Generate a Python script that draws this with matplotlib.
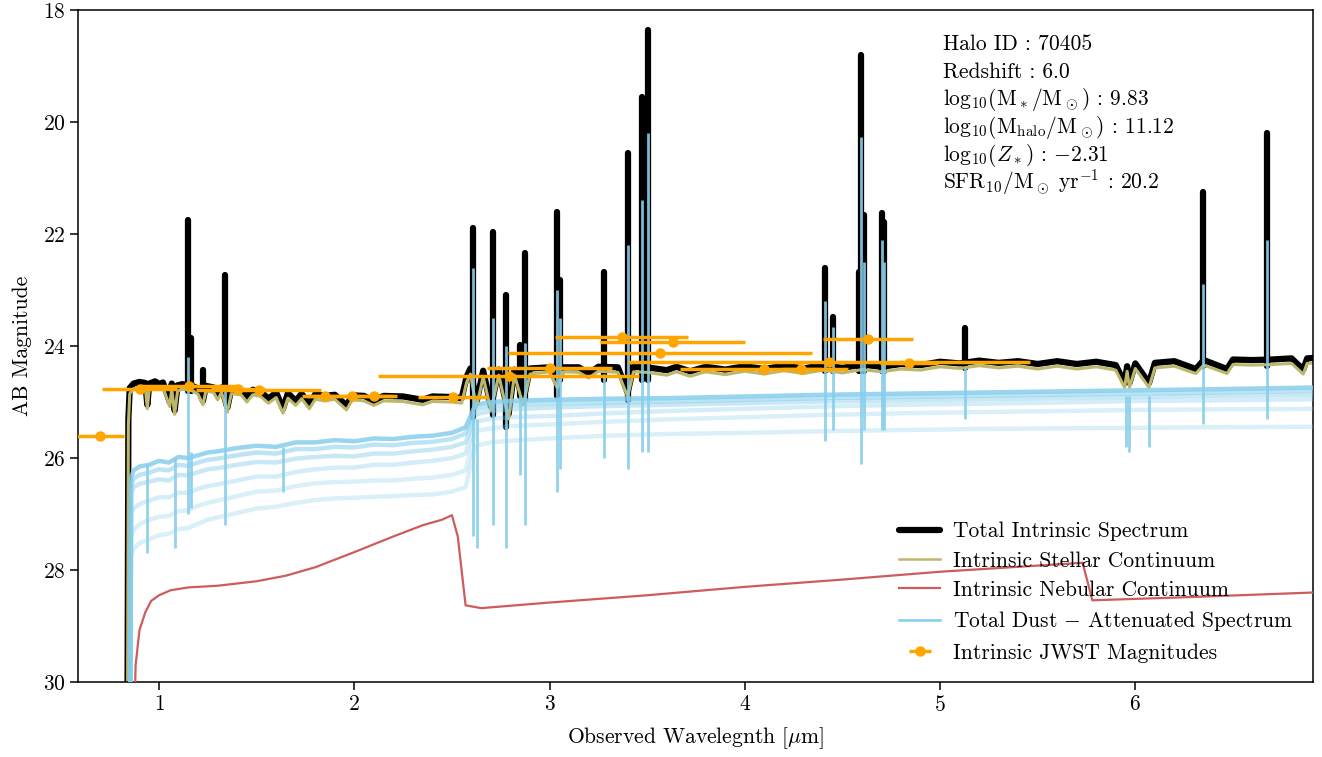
import matplotlib
matplotlib.use('Agg')
import matplotlib.pyplot as plt

plt.rcParams['font.family'] = 'serif'
plt.rcParams['font.serif'] = ['cmr10']
plt.rcParams['mathtext.fontset'] = 'cm'
plt.rcParams['axes.formatter.use_mathtext'] = True
plt.rcParams['font.size'] = 15.5

# ---- intrinsic spectrum (continuum knots) ----
spec_wave = [0.838, 0.843, 0.850, 0.870, 0.900, 0.930, 0.940, 0.950, 0.980, 1.000,
             1.020, 1.055, 1.065, 1.080, 1.095, 1.120, 1.170, 1.200, 1.225, 1.240,
             1.280, 1.300, 1.320, 1.350, 1.370, 1.420, 1.450, 1.480, 1.520, 1.560,
             1.600, 1.635, 1.660, 1.700, 1.730, 1.770, 1.800, 1.850, 1.900, 1.960,
             1.990, 2.050, 2.100, 2.150, 2.250, 2.350, 2.400, 2.500, 2.550, 2.575,
             2.595, 2.625, 2.660, 2.700, 2.740, 2.790, 2.820, 2.865, 2.900, 3.000,
             3.040, 3.070, 3.150, 3.200, 3.250, 3.350, 3.400, 3.430, 3.500, 3.600,
             3.650, 3.720, 3.800, 3.900, 4.000, 4.100, 4.200, 4.300, 4.400, 4.500,
             4.600, 4.700, 4.800, 4.900, 5.000, 5.100, 5.200, 5.300, 5.400, 5.500,
             5.600, 5.700, 5.800, 5.900, 5.945, 5.958, 5.970, 6.000, 6.070, 6.100,
             6.200, 6.310, 6.350, 6.470, 6.500, 6.600, 6.700, 6.800, 6.860, 6.880,
             6.920]
stellar_mag = [31.0, 25.40, 24.85, 24.76, 24.73, 24.75, 25.12, 24.76, 24.72, 24.77,
               24.74, 25.08, 24.76, 25.22, 24.80, 24.77, 24.80, 24.86, 25.05, 24.80,
               24.83, 24.96, 24.83, 25.18, 24.85, 24.87, 25.00, 24.87, 24.90, 25.02,
               24.92, 25.20, 24.93, 25.06, 24.94, 25.12, 24.95, 24.98, 24.95, 25.14,
               24.96, 24.98, 25.06, 24.98, 24.99, 25.05, 24.99, 25.00, 25.02, 24.65,
               24.50, 25.10, 24.55, 25.15, 24.52, 25.30, 24.52, 25.05, 24.50, 24.46,
               24.75, 24.46, 24.47, 24.57, 24.45, 24.47, 24.90, 24.46, 24.47, 24.52,
               24.46, 24.54, 24.46, 24.51, 24.45, 24.50, 24.44, 24.49, 24.43, 24.48,
               24.42, 24.46, 24.41, 24.43, 24.37, 24.40, 24.35, 24.39, 24.36, 24.41,
               24.36, 24.41, 24.37, 24.43, 24.74, 24.45, 24.74, 24.40, 24.74, 24.39,
               24.36, 24.49, 24.34, 24.49, 24.33, 24.34, 24.33, 24.31, 24.50, 24.31,
               24.30]
total_mag = [31.0, 25.30, 24.75, 24.67, 24.64, 24.66, 25.05, 24.67, 24.63, 24.68,
             24.65, 25.00, 24.67, 25.15, 24.70, 24.68, 24.71, 24.76, 24.98, 24.71,
             24.74, 24.88, 24.74, 25.10, 24.76, 24.78, 24.92, 24.78, 24.81, 24.94,
             24.83, 25.12, 24.84, 24.98, 24.85, 25.04, 24.86, 24.89, 24.87, 25.06,
             24.88, 24.89, 24.98, 24.89, 24.90, 24.96, 24.90, 24.91, 24.93, 24.55,
             24.40, 25.02, 24.44, 25.08, 24.42, 25.22, 24.42, 24.98, 24.40, 24.38,
             24.68, 24.38, 24.38, 24.49, 24.37, 24.38, 24.83, 24.37, 24.38, 24.43,
             24.37, 24.45, 24.37, 24.42, 24.36, 24.41, 24.35, 24.40, 24.34, 24.39,
             24.33, 24.37, 24.32, 24.34, 24.28, 24.31, 24.26, 24.30, 24.27, 24.32,
             24.27, 24.32, 24.28, 24.34, 24.66, 24.36, 24.66, 24.31, 24.66, 24.30,
             24.27, 24.41, 24.25, 24.41, 24.24, 24.25, 24.24, 24.22, 24.42, 24.22,
             24.21]

# emission lines in the intrinsic spectrum (top of spike, bottom of spike)
line_wave = [1.148, 1.164, 1.225, 1.336, 2.609, 2.708, 2.778, 2.848, 2.874, 3.038,
             3.054, 3.280, 3.403, 3.471, 3.505, 4.410, 4.454, 4.584, 4.594, 4.609,
             4.702, 4.712, 5.127, 6.348, 6.672]
line_peak = [21.75, 23.86, 24.43, 22.73, 21.90, 21.96, 23.09, 23.98, 22.34, 21.60,
             22.82, 22.68, 20.55, 19.55, 18.36, 22.60, 23.48, 22.68, 18.80, 21.66,
             21.63, 21.78, 23.68, 21.25, 20.20]
line_floor = [24.80, 24.80, 24.80, 24.90, 25.27, 25.23, 25.45, 24.90, 24.95, 24.90,
              24.60, 24.60, 24.96, 24.60, 24.60, 24.45, 24.45, 24.45, 24.45, 24.45,
              24.45, 24.45, 24.40, 24.35, 24.35]

# ---- nebular continuum ----
neb_wave = [0.872, 0.88, 0.90, 0.93, 0.96, 1.00, 1.06, 1.15, 1.30, 1.50,
            1.65, 1.80, 2.00, 2.20, 2.35, 2.45, 2.50, 2.53, 2.57, 2.65,
            3.00, 3.50, 4.00, 4.50, 5.00, 5.50, 5.73, 5.78, 6.30, 6.92]
neb_mag = [31.0, 29.70, 29.07, 28.75, 28.55, 28.45, 28.36, 28.31, 28.28, 28.20,
           28.10, 27.95, 27.68, 27.40, 27.20, 27.10, 27.02, 27.40, 28.63, 28.68,
           28.58, 28.45, 28.30, 28.17, 28.03, 27.92, 27.87, 28.54, 28.48, 28.40]

# ---- dust-attenuated spectra (several sightlines) ----
dust_wave = [0.852, 0.857, 0.87, 0.90, 0.95, 1.00, 1.05, 1.10, 1.15, 1.20,
             1.25, 1.30, 1.40, 1.50, 1.60, 1.70, 1.80, 1.90, 2.00, 2.10,
             2.20, 2.30, 2.40, 2.50, 2.57, 2.62, 2.70, 2.80, 3.00, 3.30,
             3.60, 4.00, 4.40, 4.80, 5.20, 5.60, 6.00, 6.40, 6.92]
dust_mag_a = [31.0, 26.35, 26.22, 26.15, 26.12, 26.05, 26.08, 25.98, 26.00, 25.95,
              25.90, 25.88, 25.82, 25.78, 25.80, 25.72, 25.72, 25.68, 25.70, 25.65,
              25.66, 25.62, 25.60, 25.55, 25.45, 25.05, 25.00, 24.98, 24.96, 24.94,
              24.93, 24.90, 24.87, 24.85, 24.83, 24.81, 24.79, 24.77, 24.74]
dust_mag_b = [31.0, 26.50, 26.37, 26.30, 26.26, 26.20, 26.22, 26.12, 26.14, 26.08,
              26.03, 26.01, 25.95, 25.90, 25.92, 25.84, 25.84, 25.80, 25.81, 25.76,
              25.77, 25.73, 25.71, 25.66, 25.56, 25.13, 25.08, 25.05, 25.03, 25.01,
              24.99, 24.96, 24.93, 24.91, 24.89, 24.87, 24.85, 24.83, 24.80]
dust_mag_c = [31.0, 26.62, 26.52, 26.46, 26.42, 26.38, 26.40, 26.30, 26.31, 26.25,
              26.20, 26.18, 26.12, 26.07, 26.08, 26.01, 25.98, 25.96, 25.97, 25.92,
              25.92, 25.88, 25.85, 25.80, 25.72, 25.22, 25.16, 25.13, 25.10, 25.07,
              25.05, 25.02, 24.99, 24.97, 24.95, 24.93, 24.91, 24.89, 24.87]
dust_mag_d = [31.0, 27.00, 26.90, 26.82, 26.76, 26.70, 26.70, 26.62, 26.62, 26.55,
              26.50, 26.47, 26.40, 26.33, 26.33, 26.25, 26.20, 26.17, 26.17, 26.12,
              26.12, 26.08, 26.05, 26.00, 25.92, 25.35, 25.30, 25.27, 25.25, 25.20,
              25.16, 25.12, 25.08, 25.05, 25.03, 25.01, 24.98, 24.97, 24.95]
dust_mag_e = [31.0, 27.40, 27.28, 27.18, 27.10, 27.05, 27.03, 26.95, 26.93, 26.85,
              26.80, 26.76, 26.68, 26.60, 26.58, 26.50, 26.45, 26.43, 26.42, 26.40,
              26.40, 26.37, 26.35, 26.30, 26.22, 25.52, 25.47, 25.43, 25.40, 25.35,
              25.31, 25.27, 25.23, 25.20, 25.18, 25.16, 25.14, 25.13, 25.12]
dust_mag_f = [31.0, 27.75, 27.62, 27.52, 27.45, 27.38, 27.35, 27.27, 27.25, 27.17,
              27.10, 27.06, 26.98, 26.90, 26.87, 26.80, 26.75, 26.72, 26.71, 26.69,
              26.68, 26.66, 26.65, 26.60, 26.52, 25.78, 25.72, 25.69, 25.65, 25.60,
              25.57, 25.55, 25.52, 25.50, 25.48, 25.47, 25.46, 25.45, 25.44]
dust_mags = [dust_mag_a, dust_mag_b, dust_mag_c, dust_mag_d, dust_mag_e, dust_mag_f]
dust_alpha = [0.85, 0.55, 0.45, 0.35, 0.3, 0.3]

# lines / absorption features in the attenuated spectra
dust_spike_wave = [0.94, 1.08, 1.148, 1.164, 1.336, 1.635, 2.609, 2.63, 2.708, 2.778,
                   2.85, 2.874, 3.038, 3.054, 3.28, 3.403, 3.471, 3.505, 4.41, 4.454,
                   4.594, 4.609, 4.702, 4.712, 5.127, 5.95, 5.97, 6.07, 6.348, 6.672]
dust_spike_top = [26.10, 26.00, 24.20, 25.90, 24.80, 25.80, 22.60, 25.30, 23.50, 24.00,
                  24.90, 23.95, 23.00, 23.50, 24.50, 22.20, 21.40, 20.20, 23.20, 23.66,
                  20.27, 22.50, 22.10, 22.50, 24.40, 24.90, 24.90, 24.90, 22.90, 22.10]
dust_spike_bottom = [27.70, 27.60, 27.00, 26.90, 27.20, 26.60, 27.40, 27.60, 27.20, 27.60,
                     26.30, 27.20, 26.60, 26.20, 26.00, 26.20, 25.90, 25.90, 25.70, 25.50,
                     26.10, 25.50, 25.50, 25.50, 25.30, 25.80, 25.90, 25.80, 25.40, 25.30]

# ---- JWST photometry ----
filt_wave = [0.70, 0.90, 1.155, 1.405, 1.51, 1.85, 1.99, 2.10, 2.505, 2.79,
             3.00, 3.37, 3.63, 3.565, 4.10, 4.29, 4.43, 4.63, 4.84]
filt_mag = [25.61, 24.77, 24.71, 24.77, 24.79, 24.89, 24.89, 24.90, 24.91, 24.54,
            24.39, 23.84, 23.93, 24.13, 24.41, 24.41, 24.28, 23.88, 24.30]
filt_halfwidth = [0.12, 0.19, 0.25, 0.14, 0.32, 0.12, 0.23, 0.10, 0.18, 0.67,
                  0.32, 0.34, 0.37, 0.78, 0.43, 0.10, 1.03, 0.23, 0.15]

info = ['Halo ID : 70405',
        'Redshift : 6.0',
        r'$\mathrm{log}_{10}(\mathrm{M_*/M_\odot})$ : 9.83',
        r'$\mathrm{log}_{10}(\mathrm{M_{halo}/M_\odot})$ : 11.12',
        r'$\mathrm{log}_{10}(Z_*)$ : $-2.31$',
        r'$\mathrm{SFR_{10}/M_\odot\ yr^{-1}}$ : 20.2']

fig = plt.figure(figsize=(13.22, 7.57), dpi=100)
ax = fig.add_axes([0.059, 0.099, 0.9342, 0.8877])

ax.plot(spec_wave, total_mag, color='k', lw=4.5, solid_joinstyle='round',
        solid_capstyle='round', zorder=1, label='Total Intrinsic Spectrum')
ax.vlines(line_wave, line_peak, line_floor, color='k', lw=4.5, capstyle='round', zorder=1)
ax.plot(spec_wave, stellar_mag, color='darkkhaki', lw=2.2, zorder=2,
        label='Intrinsic Stellar Continuum')
ax.plot(neb_wave, neb_mag, color='indianred', lw=1.6, zorder=3,
        label='Intrinsic Nebular Continuum')
for i, mags in enumerate(dust_mags):
    ax.plot(dust_wave, mags, color='skyblue', lw=3.2, alpha=dust_alpha[i], zorder=4,
            label=r'Total Dust $-$ Attenuated Spectrum' if i == 0 else None)
ax.vlines(dust_spike_wave, dust_spike_top, dust_spike_bottom, color='skyblue', lw=2,
          alpha=0.9, zorder=4)
ax.errorbar(filt_wave, filt_mag, xerr=filt_halfwidth, fmt='o', color='orange', ms=6.5,
            lw=2.5, zorder=5, label='Intrinsic JWST Magnitudes')

# info block, one line at a time for even spacing
for k, txt in enumerate(info):
    ax.text(0.70, 0.9405 - 0.0412 * k, txt, transform=ax.transAxes,
            va='baseline', ha='left')

ax.set_xlim(0.585, 6.91)
ax.set_ylim(30, 18)
ax.set_xticks([1, 2, 3, 4, 5, 6])
ax.set_yticks([18, 20, 22, 24, 26, 28, 30])
ax.tick_params(length=5.5, width=1.1)
for s in ax.spines.values():
    s.set_linewidth(1.1)
ax.set_xlabel(r'Observed Wavelegnth [$\mu$m]', labelpad=8)
ax.set_ylabel('AB Magnitude', labelpad=8)
leg = ax.legend(loc='lower right', frameon=False, handlelength=1.9, handletextpad=0.6,
                labelspacing=0.45)
# thin legend swatches like the original
leg.legend_handles[1].set_linewidth(1.8)
leg.legend_handles[3].set_linewidth(1.8)
leg.legend_handles[3].set_alpha(1.0)

fig.savefig('out.png', dpi=100)
